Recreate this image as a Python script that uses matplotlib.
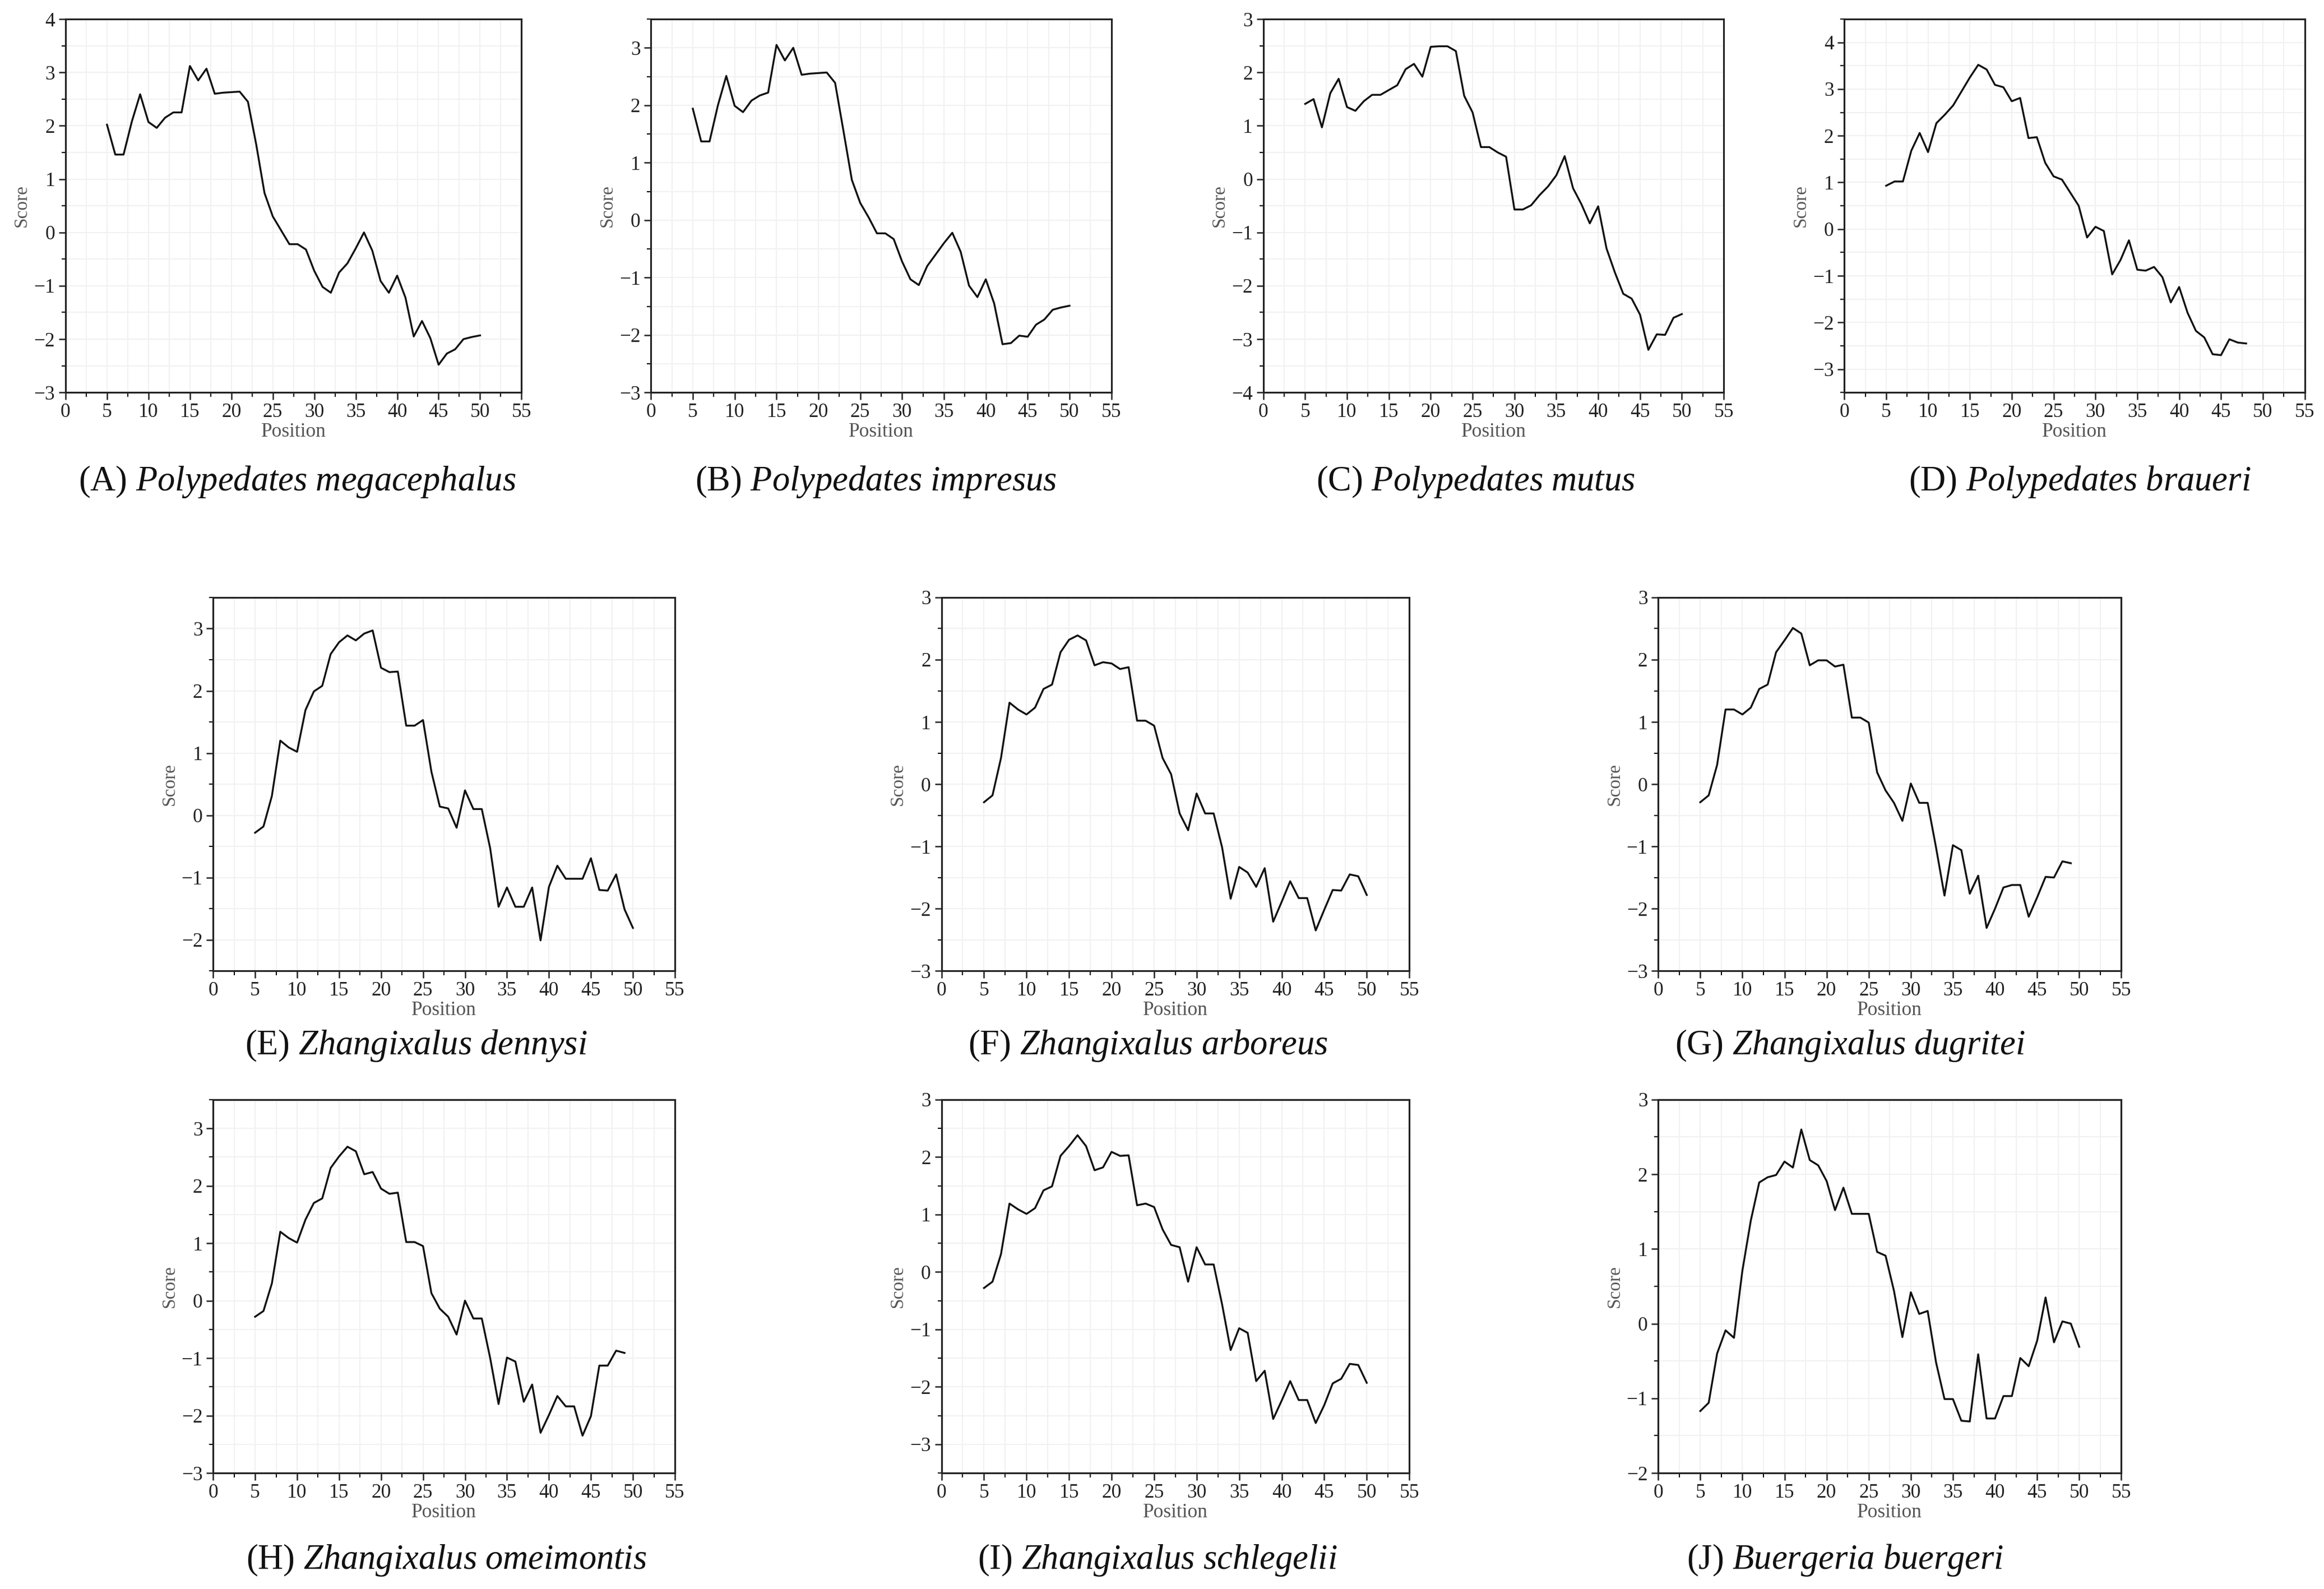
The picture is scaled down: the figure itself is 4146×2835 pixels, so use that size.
import numpy as np
import matplotlib
matplotlib.use("Agg")
import matplotlib.pyplot as plt
from matplotlib.ticker import MultipleLocator

plt.rcParams['font.family'] = ['Liberation Serif', 'DejaVu Serif']
plt.rcParams['mathtext.fontset'] = 'custom'
plt.rcParams['mathtext.rm'] = 'Liberation Serif'
plt.rcParams['mathtext.it'] = 'Liberation Serif:italic'

# ---------------- data (position starts at 5) ----------------
labels = ["A", "B", "C", "D", "E", "F", "G", "H", "I", "J"]
species = ["Polypedates megacephalus", "Polypedates impresus", "Polypedates mutus",
           "Polypedates braueri", "Zhangixalus dennysi", "Zhangixalus arboreus",
           "Zhangixalus dugritei", "Zhangixalus omeimontis", "Zhangixalus schlegelii",
           "Buergeria buergeri"]
start_pos = 5

score_A = [2.02, 1.46, 1.46, 2.08, 2.59, 2.07, 1.96, 2.15, 2.25, 2.25, 3.12, 2.85, 3.07,
           2.60, 2.62, 2.63, 2.64, 2.45, 1.65, 0.74, 0.30, 0.04, -0.22, -0.22, -0.32,
           -0.72, -1.02, -1.13, -0.75, -0.58, -0.30, 0.00, -0.34, -0.91, -1.13, -0.81,
           -1.22, -1.95, -1.66, -1.98, -2.48, -2.27, -2.19, -2.00, -1.96, -1.93]
score_B = [1.94, 1.37, 1.37, 2.00, 2.51, 1.99, 1.88, 2.08, 2.17, 2.22, 3.05, 2.78, 3.00,
           2.53, 2.55, 2.56, 2.57, 2.39, 1.55, 0.70, 0.30, 0.05, -0.23, -0.23, -0.33,
           -0.72, -1.03, -1.13, -0.80, -0.60, -0.40, -0.22, -0.55, -1.14, -1.34, -1.03,
           -1.45, -2.16, -2.14, -2.01, -2.03, -1.82, -1.73, -1.56, -1.52, -1.49]
score_C = [1.41, 1.50, 0.97, 1.61, 1.88, 1.35, 1.28, 1.46, 1.58, 1.58, 1.67, 1.76, 2.06,
           2.16, 1.92, 2.48, 2.49, 2.49, 2.40, 1.56, 1.25, 0.60, 0.60, 0.50, 0.42,
           -0.57, -0.57, -0.49, -0.30, -0.14, 0.07, 0.43, -0.17, -0.47, -0.83, -0.51,
           -1.30, -1.75, -2.15, -2.24, -2.54, -3.20, -2.91, -2.92, -2.60, -2.53]
score_D = [0.93, 1.02, 1.02, 1.68, 2.06, 1.65, 2.27, 2.45, 2.65, 2.95, 3.25, 3.52, 3.42,
           3.09, 3.04, 2.74, 2.81, 1.95, 1.97, 1.42, 1.13, 1.06, 0.78, 0.50, -0.18,
           0.05, -0.04, -0.97, -0.66, -0.24, -0.87, -0.89, -0.81, -1.03, -1.57, -1.24,
           -1.79, -2.18, -2.32, -2.68, -2.70, -2.36, -2.43, -2.45]
score_E = [-0.28, -0.18, 0.31, 1.20, 1.09, 1.02, 1.69, 1.99, 2.08, 2.59, 2.78, 2.89, 2.81,
           2.92, 2.97, 2.37, 2.30, 2.31, 1.44, 1.44, 1.53, 0.70, 0.14, 0.11, -0.20,
           0.40, 0.10, 0.10, -0.53, -1.47, -1.16, -1.47, -1.47, -1.16, -2.01, -1.15,
           -0.81, -1.02, -1.02, -1.02, -0.69, -1.20, -1.21, -0.95, -1.51, -1.81]
score_F = [-0.29, -0.18, 0.42, 1.31, 1.20, 1.12, 1.23, 1.53, 1.60, 2.12, 2.32, 2.39, 2.31,
           1.91, 1.96, 1.94, 1.85, 1.88, 1.02, 1.02, 0.94, 0.42, 0.16, -0.47, -0.74,
           -0.15, -0.47, -0.47, -1.02, -1.84, -1.33, -1.42, -1.65, -1.35, -2.21, -1.89,
           -1.56, -1.83, -1.83, -2.35, -2.02, -1.70, -1.71, -1.45, -1.48, -1.78]
score_G = [-0.29, -0.18, 0.31, 1.20, 1.20, 1.12, 1.23, 1.53, 1.60, 2.12, 2.31, 2.51, 2.42,
           1.91, 1.99, 1.99, 1.89, 1.92, 1.07, 1.07, 0.99, 0.19, -0.10, -0.30, -0.59,
           0.01, -0.30, -0.30, -1.02, -1.79, -0.98, -1.06, -1.76, -1.47, -2.31, -2.00,
           -1.66, -1.62, -1.62, -2.13, -1.82, -1.49, -1.50, -1.24, -1.27]
score_H = [-0.28, -0.18, 0.30, 1.20, 1.09, 1.01, 1.41, 1.70, 1.78, 2.31, 2.51, 2.68, 2.60,
           2.20, 2.24, 1.95, 1.86, 1.88, 1.02, 1.02, 0.95, 0.13, -0.14, -0.28, -0.59,
           0.00, -0.31, -0.31, -1.00, -1.80, -0.99, -1.06, -1.76, -1.46, -2.30, -1.99,
           -1.66, -1.84, -1.84, -2.35, -2.01, -1.13, -1.13, -0.87, -0.91]
score_I = [-0.28, -0.17, 0.31, 1.19, 1.09, 1.01, 1.11, 1.42, 1.49, 2.02, 2.19, 2.38, 2.19,
           1.77, 1.82, 2.09, 2.02, 2.03, 1.16, 1.19, 1.13, 0.74, 0.47, 0.43, -0.17,
           0.43, 0.13, 0.13, -0.57, -1.36, -0.98, -1.06, -1.90, -1.72, -2.56, -2.24,
           -1.90, -2.23, -2.23, -2.63, -2.32, -1.94, -1.86, -1.60, -1.62, -1.93]
score_J = [-1.17, -1.06, -0.40, -0.09, -0.19, 0.71, 1.38, 1.89, 1.96, 1.99, 2.17, 2.09, 2.60,
           2.19, 2.12, 1.91, 1.52, 1.82, 1.47, 1.47, 1.47, 0.96, 0.91, 0.44, -0.18,
           0.42, 0.13, 0.17, -0.52, -1.01, -1.01, -1.30, -1.31, -0.41, -1.27, -1.27,
           -0.97, -0.97, -0.46, -0.57, -0.23, 0.35, -0.25, 0.03, 0.00, -0.31]
scores = [score_A, score_B, score_C, score_D, score_E, score_F, score_G, score_H,
          score_I, score_J]
y_limits = [(-3, 4), (-3, 3.5), (-4, 3), (-3.5, 4.5), (-2.5, 3.5),
            (-3, 3), (-3, 3), (-3, 3.5), (-3.5, 3), (-2, 3)]
y_major_ticks = [np.arange(-3, 4.1, 1), np.arange(-3, 3.1, 1), np.arange(-4, 3.1, 1),
                 np.arange(-3, 4.1, 1), np.arange(-2, 3.1, 1), np.arange(-3, 3.1, 1),
                 np.arange(-3, 3.1, 1), np.arange(-3, 3.1, 1), np.arange(-3, 3.1, 1),
                 np.arange(-2, 3.1, 1)]
x_ticks = np.arange(0, 56, 5)

# ---------------- layout ----------------
W, H = 4146, 2835
fig = plt.figure(figsize=(W / 300, H / 300), dpi=300)

row_tb = [(0.753, 0.988), (0.389, 0.624), (0.073, 0.308)]
rects = [
    (0.0282, 0.2244, 0), (0.2801, 0.4782, 0), (0.5436, 0.7417, 0), (0.7936, 0.9917, 0),
    (0.0917, 0.2904, 1), (0.4051, 0.6064, 1), (0.7135, 0.9128, 1),
    (0.0917, 0.2904, 2), (0.4051, 0.6064, 2), (0.7135, 0.9128, 2),
]
cap_x = [0.128, 0.377, 0.635, 0.895, 0.179, 0.494, 0.796, 0.192, 0.498, 0.794]
cap_y = [0.697, 0.342, 0.018]

for i in range(10):
    l, r, row = rects[i]
    b, t = row_tb[row]
    ax = fig.add_axes([l, b, r - l, t - b])
    vals = scores[i]
    pos = np.arange(start_pos, start_pos + len(vals))
    ax.plot(pos, vals, color='#111111', lw=0.8, zorder=3)

    ax.set_xlim(0, 55)
    ax.set_ylim(*y_limits[i])
    ax.set_xticks(x_ticks)
    ax.set_yticks(y_major_ticks[i])
    ax.xaxis.set_minor_locator(MultipleLocator(2.5))
    ax.yaxis.set_minor_locator(MultipleLocator(0.5))
    ax.grid(which='both', color='#f1f1f1', lw=0.5, zorder=0)
    ax.tick_params(which='major', direction='out', length=3, width=0.6,
                   labelsize=8.5, pad=1.5, colors='#222222')
    ax.tick_params(which='minor', direction='out', length=1.8, width=0.5)
    for s in ax.spines.values():
        s.set_linewidth(0.75)
        s.set_color('#222222')
    ax.set_xlabel("Position", fontsize=8.5, color='#555555', labelpad=0.5)
    ax.set_ylabel("Score", fontsize=8, color='#555555', labelpad=1.5)

    name = species[i].replace(" ", r"\ ")
    fig.text(cap_x[i], cap_y[row], "(%s) $\\mathit{%s}$" % (labels[i], name),
             ha='center', va='center', fontsize=15, color='#111111')

fig.savefig("out.png", dpi=300, facecolor='white')
